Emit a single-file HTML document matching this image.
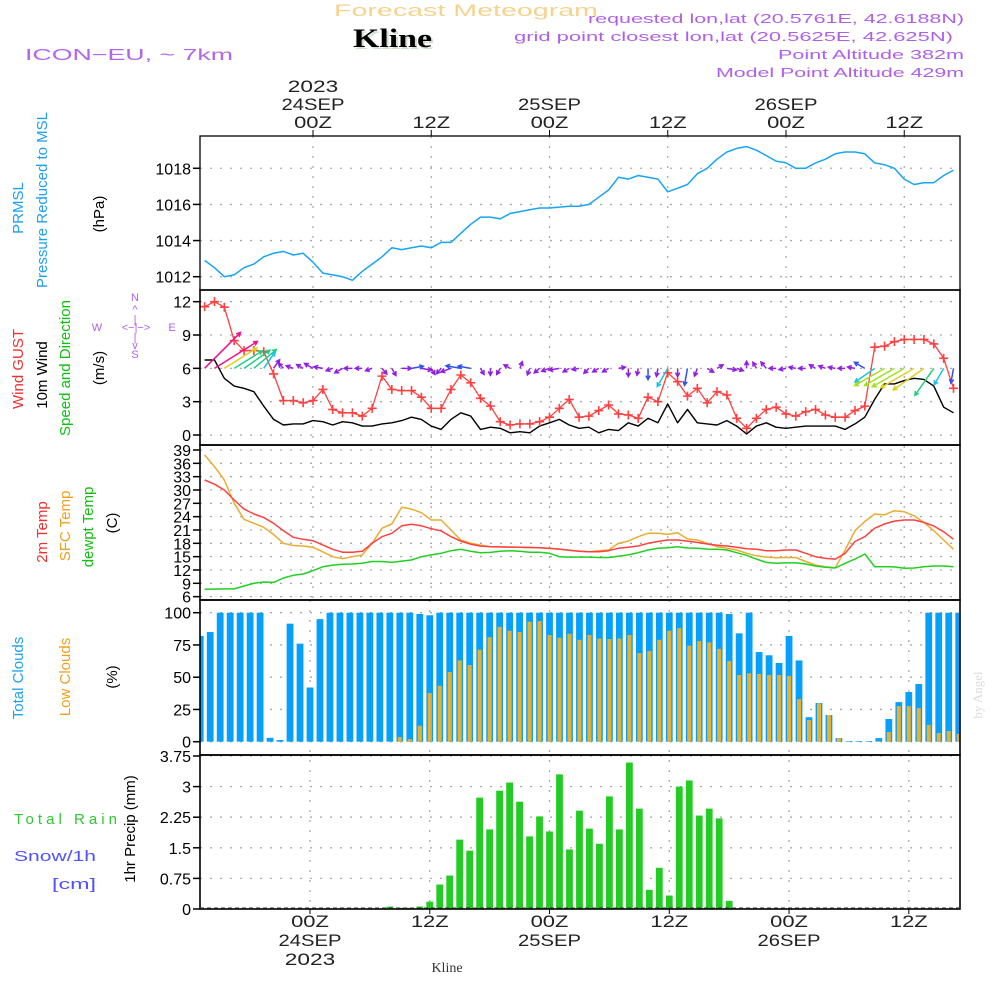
<!DOCTYPE html>
<html><head><meta charset="utf-8">
<style>
html,body{margin:0;padding:0;background:#fff;}
svg{display:block;font-family:"Liberation Sans",sans-serif;}
</style></head>
<body>
<svg id="chart" width="1000" height="1000" viewBox="0 0 1000 1000" xmlns="http://www.w3.org/2000/svg">
<rect width="1000" height="1000" fill="#fff"/>
<text x="334" y="16" font-size="17" fill="#f5d38e" textLength="264" lengthAdjust="spacingAndGlyphs">Forecast Meteogram</text>
<text x="355" y="49" font-size="26" font-weight="bold" font-family="Liberation Serif,serif" fill="#cfe0cf" textLength="79" lengthAdjust="spacingAndGlyphs">Kline</text>
<text x="353" y="47" font-size="26" font-weight="bold" font-family="Liberation Serif,serif" fill="#000" textLength="79" lengthAdjust="spacingAndGlyphs">Kline</text>
<text x="25" y="60" font-size="16" fill="#b565e8" textLength="208" lengthAdjust="spacingAndGlyphs">ICON−EU, ~ 7km</text>
<g font-size="13" fill="#b060e8" text-anchor="end">
<text x="964" y="23" textLength="376" lengthAdjust="spacingAndGlyphs">requested lon,lat (20.5761E, 42.6188N)</text>
<text x="953" y="41" textLength="439" lengthAdjust="spacingAndGlyphs">grid point closest lon,lat (20.5625E, 42.625N)</text>
<text x="964" y="59" textLength="186" lengthAdjust="spacingAndGlyphs">Point Altitude 382m</text>
<text x="964" y="77" textLength="248" lengthAdjust="spacingAndGlyphs">Model Point Altitude 429m</text>
</g>
<text transform="translate(982,695) rotate(-90)" font-size="13" font-family="Liberation Serif,serif" fill="#dcdcdc" text-anchor="middle">by Angel</text>

<g font-size="15" text-anchor="middle">
<text transform="translate(23,208) rotate(-90)" fill="#1ea0f0">PRMSL</text>
<text transform="translate(47,200) rotate(-90)" fill="#1ea0f0">Pressure Reduced to MSL</text>
<text transform="translate(104,214) rotate(-90)" fill="#000">(hPa)</text>
<text transform="translate(23,369) rotate(-90)" fill="#f03030">Wind GUST</text>
<text transform="translate(47,375) rotate(-90)" fill="#000">10m Wind</text>
<text transform="translate(70,368) rotate(-90)" fill="#10c010">Speed and Direction</text>
<text transform="translate(104,368) rotate(-90)" fill="#000">(m/s)</text>
<text transform="translate(47,532) rotate(-90)" fill="#f03030">2m Temp</text>
<text transform="translate(70,526) rotate(-90)" fill="#f0a020">SFC Temp</text>
<text transform="translate(93,527) rotate(-90)" fill="#10c010">dewpt Temp</text>
<text transform="translate(117,523) rotate(-90)" fill="#000">(C)</text>
<text transform="translate(23,678) rotate(-90)" fill="#1ea0f0">Total Clouds</text>
<text transform="translate(70,677) rotate(-90)" fill="#f0a020">Low Clouds</text>
<text transform="translate(117,677) rotate(-90)" fill="#000">(%)</text>
<text transform="translate(135,829) rotate(-90)" fill="#000">1hr Precip (mm)</text>
</g>
<g font-size="15">
<text x="14" y="824" fill="#30c830" textLength="103" lengthAdjust="spacing">Total   Rain</text>
<text x="14" y="861" fill="#5050ff" textLength="82" lengthAdjust="spacingAndGlyphs">Snow/1h</text>
<text x="52" y="889" fill="#5050ff" textLength="44" lengthAdjust="spacingAndGlyphs">[cm]</text>
</g>
<g font-size="11" fill="#b060e8" text-anchor="middle">
<text x="135" y="301">N</text><text x="135" y="313">^</text><text x="135" y="323">|</text>
<text x="97" y="331">W</text><text x="136" y="331">&lt;−|−&gt;</text><text x="172" y="331">E</text>
<text x="135" y="341">|</text><text x="135" y="349">v</text><text x="135" y="358">S</text>
</g>

<g id="plot"></g>
</svg>
<script>
const pressure = [1012.9,1012.5,1012.0,1012.1,1012.5,1012.7,1013.1,1013.3,1013.4,1013.2,1013.3,1012.8,1012.2,1012.1,1012.0,1011.8,1012.3,1012.7,1013.1,1013.6,1013.5,1013.6,1013.7,1013.6,1013.9,1013.9,1014.4,1014.9,1015.3,1015.3,1015.2,1015.5,1015.6,1015.7,1015.8,1015.8,1015.85,1015.9,1015.9,1016.0,1016.4,1016.8,1017.5,1017.4,1017.6,1017.5,1017.4,1016.7,1016.9,1017.1,1017.7,1018.0,1018.5,1018.9,1019.1,1019.2,1019.0,1018.7,1018.4,1018.3,1018.0,1018.0,1018.3,1018.5,1018.8,1018.9,1018.9,1018.8,1018.3,1018.2,1018.0,1017.4,1017.1,1017.2,1017.2,1017.6,1017.9];
const gust = [11.55,12,11.5,8.5,7.6,7.6,7.5,5.5,3.1,3.1,2.9,3.1,4.1,2.3,2.0,2.0,1.7,2.4,5.3,4.1,4.0,4.0,3.4,2.4,2.4,4.1,5.4,4.7,3.3,2.6,1.2,0.9,1.0,1.0,1.2,1.6,2.4,3.2,1.6,1.7,2.2,2.7,1.9,1.8,1.5,3.4,3.0,5.6,4.8,3.5,4.2,2.9,3.9,3.6,1.5,0.6,1.5,2.3,2.5,1.9,1.7,2.1,2.3,1.8,1.6,1.6,2.2,2.6,7.9,8.0,8.4,8.6,8.6,8.6,8.2,6.9,4.2];
const wind10m = [6.75,6.75,5.1,4.4,4.2,3.9,2.6,1.4,0.9,1.0,1.0,1.3,1.2,0.9,1.2,1.1,0.8,0.8,1.0,1.1,1.3,1.6,1.4,0.8,0.5,1.4,2.0,1.7,0.5,0.7,0.6,0.2,0.3,0.2,0.8,1.1,1.4,0.9,0.6,0.7,0.2,0.5,0.4,1.1,0.8,1.5,1.1,2.8,1.1,2.3,1.1,1.0,0.9,1.3,0.8,0.1,0.8,1.1,0.7,0.6,0.7,0.8,0.8,0.8,0.8,0.5,1.0,1.6,3.2,4.6,4.6,4.9,5.1,5.0,4.4,2.5,2.0];
const windDir = [45,58,58,58,55,50,35,35,315,290,300,300,280,250,240,270,270,250,140,150,90,80,100,150,220,250,280,280,150,180,210,300,20,200,230,250,260,240,260,225,240,240,80,180,190,180,190,210,180,190,200,120,60,100,110,0,330,320,270,260,280,270,300,290,280,270,280,300,235,240,240,240,240,235,215,210,190];
const temp2m = [32.25,31.3,30.0,27.75,25.7,24.6,23.8,22.5,20.85,19.35,18.9,18.6,17.6,16.65,16.0,16.0,16.2,18.0,19.5,20.25,21.95,22.3,21.95,21.3,20.8,19.5,18.5,17.8,17.4,17.25,17.2,17.15,17.1,17.05,17.0,16.85,16.7,16.45,16.2,16.1,16.1,16.35,16.9,17.1,17.4,18.0,18.4,18.75,18.75,18.5,18.2,17.85,17.55,17.4,17.1,16.8,16.65,16.35,16.35,16.5,16.5,15.75,15.0,14.6,14.45,15.75,18.4,19.5,21.4,22.35,23.0,23.25,23.25,22.7,21.9,20.6,18.9];
const tempSfc = [37.9,35.25,32.25,27.0,23.4,22.5,21.6,20.0,18.0,17.5,17.4,17.1,16.1,15.0,14.55,15.0,15.4,18.0,21.4,22.35,26.1,25.7,24.9,23.25,23.25,21.0,18.75,18.0,17.6,17.25,17.2,17.15,17.1,17.05,17.0,16.85,16.7,16.45,16.2,16.1,16.35,16.5,18.0,18.5,19.5,20.25,20.25,20.0,20.4,19.0,18.75,18.0,17.25,16.9,16.5,15.75,15.2,14.9,14.75,14.8,14.8,13.9,13.1,12.75,12.5,16.5,20.85,22.9,24.6,24.4,25.35,25.1,24.2,22.7,20.85,18.75,16.65];
const dewpt = [7.65,7.7,7.75,7.75,8.4,9.0,9.3,9.2,10.2,10.8,11.1,11.85,12.75,13.1,13.3,13.35,13.5,13.9,13.9,13.7,14.0,14.25,15.0,15.4,15.75,16.35,16.65,16.2,15.9,15.95,16.2,16.35,16.2,16.0,16.0,15.75,15.0,14.9,14.9,14.9,14.8,14.8,15.1,15.4,15.9,16.5,16.9,17.0,17.25,16.95,16.9,16.7,16.65,16.5,15.9,15.3,14.45,13.7,13.5,13.6,13.6,13.35,12.9,12.6,12.45,13.5,14.45,15.6,12.75,12.75,12.7,12.4,12.45,12.75,12.9,12.9,12.75];
const totalClouds = [82,85,100,100,100,100,100,3,1.3,91.5,76,42,95,100,100,100,100,100,100,100,100,100,99,98,100,100,100,100,100,100,100,100,100,100,100,100,100,100,100,100,100,100,100,100,100,100,100,100,100,100,100,100,100,99,84,100,69.5,67,61,82,63,19,30,20.7,2.8,0.5,0.5,0.5,2.8,17.6,30.7,38.5,44.7,100,100,100,100];
const lowClouds = [0,0,0,0,0,0,0,0,0,0,0,0,0,0,0,0,0,0,0,0,3.6,2,12.4,37.7,43.4,54,63,59.4,71.3,81,89,86,85,93,93.5,82.7,80.6,83.7,79,82.7,80,79.6,80,82.7,68.7,70.3,79,86,88,74.4,78,77,72,62.5,51.7,53,52.5,51.7,51.7,51,33,16.8,29.7,20.7,2.8,0,0,0,0.5,7.5,27.6,27.6,26,13,6.7,8.3,6];
const precip = [0,0,0,0,0,0,0,0,0,0,0,0,0,0,0,0,0,0,0,0.06,0.03,0.03,0.06,0.18,0.6,0.82,1.7,1.43,2.73,1.95,2.9,3.1,2.63,1.78,2.27,1.9,3.3,1.46,2.41,1.97,1.6,2.76,1.95,3.59,2.46,0.47,1.01,0.33,3.0,3.15,2.29,2.46,2.22,0.2,0,0,0,0,0,0,0,0,0,0,0,0,0,0,0,0,0,0,0,0,0,0,0];
const pressTicks = [1012,1014,1016,1018];
const windTicks = [0,3,6,9,12];
const tempTicks = [6,9,12,15,18,21,24,27,30,33,36,39];
const cloudTicks = [0,25,50,75,100];
const precipTicks = [0,0.75,1.5,2.25,3,3.75];
const timeTicks = [11,23,35,47,59,71];
const timeHour = ['00Z','12Z','00Z','12Z','00Z','12Z'];
const timeDay = ['24SEP','','25SEP','','26SEP',''];
const timeYear = ['2023','','','','',''];

const NS='http://www.w3.org/2000/svg';
const L=200,R=960;
const xT=i=>313+(i-11)*9.854;
const xB=i=>310+(i-11)*9.98;
const yP=v=>276.7-(v-1012)*18.07;
const yW=v=>435-v*11.11;
const yTe=v=>450+(39-v)*4.444;
const yC=v=>741.7-v*1.29;
const yR=v=>909-v*40.8;
const plot=document.getElementById('plot');
function mk(tag,attrs,parent){const e=document.createElementNS(NS,tag);for(const k in attrs)e.setAttribute(k,attrs[k]);(parent||plot).appendChild(e);return e;}

const defs=mk('defs',{});
const cp=mk('clipPath',{id:'clip'},defs);
mk('rect',{x:L,y:136,width:R-L,height:773},cp);

const panels=[{top:136,bot:290},{top:290,bot:445},{top:445,bot:600},{top:600,bot:755},{top:755,bot:909}];
function hgrid(ticks,fy,name){
  ticks.forEach(t=>{
    const y=fy(t);
    const g=mk('line',{x1:L,x2:R,y1:y,y2:y,stroke:'#aaa','stroke-width':1.3,'stroke-dasharray':'2,8'});
    
    
    const tk=mk('line',{x1:L-7,x2:L,y1:y,y2:y,stroke:'#000','stroke-width':1.5});
    
    
    const tx=mk('text',{x:L-9,y:y+6,'font-size':16,'text-anchor':'end',fill:'#000'});
    tx.textContent=t;
    
    
  });
}
hgrid(pressTicks,yP,'pressure');
hgrid(windTicks,yW,'wind');
hgrid(tempTicks,yTe,'temp');
hgrid(cloudTicks,yC,'cloud');
hgrid(precipTicks,yR,'precip');
timeTicks.forEach((i,k)=>{
  [[136,600,xT],[600,909,xB]].forEach(([a,b,f])=>{
    const v=mk('line',{x1:f(i),x2:f(i),y1:a,y2:b,stroke:'#aaa','stroke-width':1.3,'stroke-dasharray':'2,8'});
    
    
  });
  const tt=mk('line',{x1:xT(i),x2:xT(i),y1:130,y2:136,stroke:'#000','stroke-width':1});
  
  
  const bt=mk('line',{x1:xB(i),x2:xB(i),y1:909,y2:914,stroke:'#000','stroke-width':1});
  
  
  const lines=[[timeYear[k],92],[timeDay[k],110],[timeHour[k],128]];
  lines.forEach(([s,y])=>{ if(!s)return;
    const t=mk('text',{x:xT(i),y:y,'font-size':17,'text-anchor':'middle',fill:'#222',textLength:s.length*12.6,lengthAdjust:'spacingAndGlyphs'});
    t.textContent=s;
    
    
  });
  const blines=[[timeHour[k],927],[timeDay[k],946],[timeYear[k],965]];
  blines.forEach(([s,y])=>{ if(!s)return;
    const t=mk('text',{x:xB(i),y:y,'font-size':17,'text-anchor':'middle',fill:'#222',textLength:s.length*12.6,lengthAdjust:'spacingAndGlyphs'});
    t.textContent=s;
    
    
  });
});
const kb=mk('text',{x:447,y:972,'font-size':14,'font-family':'Liberation Serif,serif','text-anchor':'middle',fill:'#333'});
kb.textContent='Kline';



const gPlot=mk('g',{'clip-path':'url(#clip)'});
function line(arr,fx,fy,color,w,name){
  const d=arr.map((v,i)=>(i?'L':'M')+fx(i).toFixed(1)+','+fy(v).toFixed(1)).join('');
  const p=mk('path',{d:d,fill:'none',stroke:color,'stroke-width':w,'stroke-linejoin':'round'},gPlot);
  
  
}
line(pressure,xT,yP,'#18a4f4',1.5,'pressure-line');
line(wind10m,xT,yW,'#000',1.4,'wind10m-line');
line(gust,xT,yW,'#ff4040',1.3,'gust-line');
gust.forEach((v,i)=>{
  const x=xT(i),y=yW(v);
  const c=mk('path',{d:`M${x-4.5},${y}H${x+4.5}M${x},${y-4.5}V${y+4.5}`,stroke:'#ff4040','stroke-width':1.6},gPlot);
  
  
});
function spdColor(s){
  if(s<1.5)return '#9020e0'; if(s<2.5)return '#3050f0'; if(s<3.5)return '#20c0e0';
  if(s<4.5)return '#20d080'; if(s<5)return '#a0e020'; if(s<5.5)return '#e0d020'; if(s<6)return '#f0a020'; return '#f01090';
}
windDir.forEach((d,i)=>{
  const s=wind10m[i];
  const len=Math.max(7,s*7.5);
  const a=d*Math.PI/180;
  const x0=xT(i),y0=yW(6);
  const x1=x0+Math.sin(a)*len,y1=y0-Math.cos(a)*len;
  const h=4.5,ang=Math.atan2(y1-y0,x1-x0);
  const p1=[x1-h*Math.cos(ang-0.5),y1-h*Math.sin(ang-0.5)];
  const p2=[x1-h*Math.cos(ang+0.5),y1-h*Math.sin(ang+0.5)];
  const c=spdColor(s);
  const ar=mk('path',{d:`M${x0},${y0}L${x1},${y1}M${p1[0]},${p1[1]}L${x1},${y1}L${p2[0]},${p2[1]}`,stroke:c,'stroke-width':1.5,fill:'none'},gPlot);
  
  
});
line(tempSfc,xT,yTe,'#eaac30',1.5,'sfc-temp-line');
line(temp2m,xT,yTe,'#ff4040',1.5,'temp2m-line');
line(dewpt,xT,yTe,'#20d020',1.5,'dewpt-line');
totalClouds.forEach((v,i)=>{
  const x=xB(i);
  const b=mk('rect',{x:x-3.4,y:yC(v),width:6.8,height:yC(0)-yC(v),fill:'#06a0fa'},gPlot);
  
  
});
lowClouds.forEach((v,i)=>{
  const x=xB(i);
  const b=mk('rect',{x:x-2,y:yC(v),width:4,height:yC(0)-yC(v),fill:'#e8b030'},gPlot);
  
  
});
precip.forEach((v,i)=>{
  if(v<=0)return;
  const x=xB(i);
  const b=mk('rect',{x:x-3.4,y:yR(v),width:6.8,height:yR(0)-yR(v),fill:'#22cc22'},gPlot);
  
  
});
panels.forEach((p,k)=>{
  const r=mk('rect',{x:L,y:p.top,width:R-L,height:p.bot-p.top,fill:'none',stroke:'#000','stroke-width':k?1.6:1.3});
  
  
});
const zl=mk('line',{x1:L,x2:R,y1:908,y2:908,stroke:'#333','stroke-width':1,'stroke-dasharray':'4,3'});


</script>
</body></html>
